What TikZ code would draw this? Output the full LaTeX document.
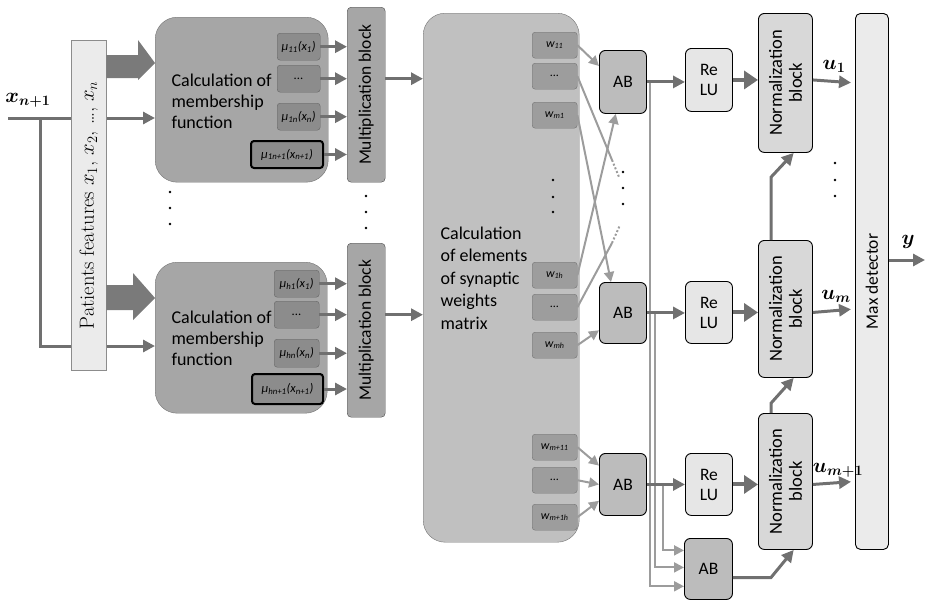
\documentclass[tikz,border=0pt]{standalone}
\usepackage{bm}
\usepackage{fontspec}
\setsansfont{Carlito}
\usetikzlibrary{arrows.meta,calc,positioning}

\definecolor{lineg}{HTML}{707070}
\definecolor{lightg}{HTML}{9C9C9C}
\definecolor{fatg}{HTML}{7A7A7A}
\definecolor{membg}{HTML}{A6A6A6}
\definecolor{mubg}{HTML}{8C8C8C}
\definecolor{wmbg}{HTML}{C0C0C0}
\definecolor{abbg}{HTML}{BCBCBC}
\definecolor{relubg}{HTML}{E6E6E6}
\definecolor{normbg}{HTML}{D8D8D8}
\definecolor{paleb}{HTML}{EBEBEB}

\tikzset{
  box/.style={anchor=north west, inner sep=0pt, align=center,
    font=\sffamily\fontsize{17.5}{20}\selectfont},
  membox/.style={box, fill=membg, draw=black!55, rounded corners=22pt},
  mubox/.style={box, fill=mubg, draw=black!60, rounded corners=3pt,
    font=\sffamily\itshape\fontsize{12.5}{13}\selectfont},
  mulast/.style={mubox, draw=black, line width=2pt},
  multbox/.style={box, fill=membg, draw=black!70, rounded corners=4pt},
  wmbox/.style={box, fill=wmbg, draw=black!55, rounded corners=22pt},
  wbox/.style={box, fill=mubg!85, draw=black!55, rounded corners=3pt,
    minimum width=45pt, minimum height=26pt,
    font=\sffamily\itshape\fontsize{12}{13}\selectfont},
  abbox/.style={box, fill=abbg, draw=black, line width=0.9pt, rounded corners=6pt},
  relubox/.style={box, fill=relubg, draw=black, line width=0.9pt, rounded corners=6pt},
  normbox/.style={box, fill=normbg, draw=black, line width=0.9pt, rounded corners=6pt},
  rottxt/.style={rotate=90, align=center, font=\sffamily\fontsize{17.5}{20}\selectfont},
  lbl/.style={font=\fontsize{22}{24}\selectfont},
  conn/.style={draw=lineg, line width=3pt, -{Triangle[length=12pt,width=12pt]}},
  bigconn/.style={draw=lineg, line width=4pt, -{Triangle[length=14pt,width=18pt]}},
  lconn/.style={draw=lightg, line width=2pt, -{Triangle[length=10pt,width=10pt]}},
  lline/.style={draw=lightg, line width=2pt},
  dotline/.style={draw=lightg, line width=2pt, dotted},
}

\begin{document}
\begin{tikzpicture}[x=1pt,y=-1pt]
\useasboundingbox (0,0) rectangle (925,605);

% membership blocks
\node[membox, minimum width=173pt, minimum height=165pt] (memA) at (155,17) {};
\node[membox, minimum width=172pt, minimum height=151pt] (memB) at (155,262) {};
\node[anchor=west, align=left, font=\sffamily\fontsize{18}{21}\selectfont] (memAtxt) at (168,101)
  {Calculation of\\membership\\function};
\node[anchor=west, align=left, font=\sffamily\fontsize{18}{21}\selectfont] (memBtxt) at (168,338)
  {Calculation of\\membership\\function};

\node[mubox, minimum width=43pt, minimum height=27pt] (muA1) at (277,33) {μ\textsubscript{11}(x\textsubscript{1})};
\node[mubox, minimum width=43pt, minimum height=27pt] (muA2) at (277,65) {...};
\node[mubox, minimum width=43pt, minimum height=27pt] (muA3) at (277,103) {μ\textsubscript{1n}(x\textsubscript{n})};
\node[mulast, minimum width=72pt, minimum height=27pt] (muA4) at (250,140) {μ\textsubscript{1n+1}(x\textsubscript{n+1})};
\node[mubox, minimum width=45pt, minimum height=27pt] (muB1) at (274,270) {μ\textsubscript{h1}(x\textsubscript{1})};
\node[mubox, minimum width=45pt, minimum height=27pt] (muB2) at (274,301) {...};
\node[mubox, minimum width=45pt, minimum height=28pt] (muB3) at (274,339) {μ\textsubscript{hn}(x\textsubscript{n})};
\node[mulast, minimum width=71pt, minimum height=30pt] (muB4) at (251,373) {μ\textsubscript{hn+1}(x\textsubscript{n+1})};

% input x_{n+1}
\coordinate (xin) at (8,118);
\coordinate (xsplit) at (40,118);
\node[lbl] (xlab) at (28,100) {$\bm{x}_{\bm{n+1}}$};
\draw[conn] (xin) -- (xin -| memA.west);
\draw[conn] (xsplit) |- (memB.west |- 0,346);

% patients features
\node[box, fill=paleb, draw=black!45, minimum width=35pt, minimum height=330pt] (feat) at (71,40) {};
\node[rotate=90, font=\fontsize{20.5}{22}\selectfont] (feattxt) at (feat)
  {Patients features $x_1$, $x_2$, \dots, $x_n$};
\fill[fatg] (feat.east |- 0,55) -- (138,55) -- (138,40) -- (memA.west |- 0,63)
  -- (138,80) -- (138,78) -- (feat.east |- 0,78) -- cycle;
\fill[fatg] (feat.east |- 0,285) -- (133,285) -- (133,273) -- (memB.west |- 0,298)
  -- (133,320) -- (133,310) -- (feat.east |- 0,310) -- cycle;

\foreach \yy in {192,208,224} \fill (170,\yy) circle (1.4pt);

% multiplication blocks
\node[multbox, minimum width=38pt, minimum height=175pt] (multA) at (347,7) {};
\node[multbox, minimum width=38pt, minimum height=174pt] (multB) at (347,243) {};
\node[rottxt] (multAtxt) at (multA) {Multiplication block};
\node[rottxt] (multBtxt) at (multB) {Multiplication block};
\foreach \yy in {196,212,228} \fill (366,\yy) circle (1.4pt);

\foreach \m in {muA1,muA2,muA3,muA4} \draw[conn] (\m) -- (\m -| multA.west);
\foreach \m in {muB1,muB2,muB3,muB4} \draw[conn] (\m) -- (\m -| multB.west);

% weights matrix
\node[wmbox, minimum width=156pt, minimum height=529pt] (wmat) at (423,13) {};
\node[anchor=west, align=left, font=\sffamily\fontsize{18}{22.5}\selectfont] (wmattxt) at (437,278)
  {Calculation\\of elements\\of synaptic\\weights\\matrix};
\draw[conn] (multA.east |- muA2) -- (wmat.west |- muA2);
\draw[conn] (multB.east |- muB2) -- (wmat.west |- muB2);

\node[wbox] (wA1) at (532,32) {w\textsubscript{11}};
\node[wbox] (wA2) at (532,63) {...};
\node[wbox] (wA3) at (532,102) {w\textsubscript{m1}};
\node[wbox] (wB1) at (532,262) {w\textsubscript{1h}};
\node[wbox] (wB2) at (532,294) {...};
\node[wbox] (wB3) at (532,332) {w\textsubscript{mh}};
\node[wbox] (wC1) at (532,434) {w\textsubscript{m+11}};
\node[wbox] (wC2) at (532,467) {...};
\node[wbox] (wC3) at (532,504) {w\textsubscript{m+1h}};
\foreach \yy in {180,197,212} \fill (553,\yy) circle (1.4pt);

% AB blocks
\node[abbox, minimum width=47pt, minimum height=63pt] (abA) at (599,50) {AB};
\node[abbox, minimum width=47pt, minimum height=61pt] (abB) at (599,282) {AB};
\node[abbox, minimum width=47pt, minimum height=62pt] (abC) at (599,453) {AB};
\node[abbox, minimum width=48pt, minimum height=61pt] (abD) at (684,538) {AB};

\coordinate (endA) at (612,160);
\coordinate (endB) at (612,243);
\draw[lconn] (wA1.east) -- ($(abA.north west)!0.25!(abA.south west)$);
\draw[lline] (wA2.east) -- (endA);
\draw[dotline] (endA) -- (619,177);
\draw[lconn] (wA3.east) -- ($(abB.north west)!0.25!(abB.north east)$);
\draw[lconn] (wB1.east) -- ($(abA.south west)!0.35!(abA.south east)$);
\draw[lline] (wB2.east) -- (endB);
\draw[dotline] (endB) -- (620,225);
\draw[lconn] (wB3.east) -- ($(abB.north west)!0.78!(abB.south west)$);
\draw[lconn] (wC1.east) -- ($(abC.north west)!0.2!(abC.south west)$);
\draw[lconn] (wC2.east) -- (abC.west);
\draw[lconn] (wC3.east) -- ($(abC.north west)!0.76!(abC.south west)$);
\foreach \yy in {172,188,204} \fill (623,\yy) circle (1.4pt);

% ReLU blocks
\node[relubox, minimum width=47pt, minimum height=63pt] (reluA) at (685,48) {Re\\LU};
\node[relubox, minimum width=47pt, minimum height=62pt] (reluB) at (685,281) {Re\\LU};
\node[relubox, minimum width=47pt, minimum height=62pt] (reluC) at (685,453) {Re\\LU};

\draw[lconn] (abA.east) ++(3,0) |- ($(abD.north west)!0.78!(abD.south west)$);
\draw[lconn] (abB.east) ++(8,0) |- ($(abD.north west)!0.475!(abD.south west)$);
\draw[lconn] (abC.east) ++(16,0) |- ($(abD.north west)!0.2!(abD.south west)$);
\draw[conn] (abA.east) -- (abA.east -| reluA.west);
\draw[conn] (abB.east) -- (abB.east -| reluB.west);
\draw[conn] (abC.east) -- (abC.east -| reluC.west);

% normalization blocks
\node[normbox, minimum width=54pt, minimum height=139pt] (normA) at (758,13) {};
\node[normbox, minimum width=54pt, minimum height=137pt] (normB) at (758,240) {};
\node[normbox, minimum width=54pt, minimum height=136pt] (normC) at (758,413) {};
\foreach \n in {normA,normB,normC}
  \node[rottxt, font=\sffamily\fontsize{18.5}{20}\selectfont] (\n txt) at (\n) {Normalization\\block};

\draw[bigconn] (reluA.east) -- (reluA.east -| normA.west);
\draw[bigconn] (reluB.east) -- (reluB.east -| normB.west);
\draw[bigconn] (reluC.east) -- (reluC.east -| normC.west);

\draw[conn] ($(normB.north west)!0.24!(normB.north east)$) -- ++(0,-63)
  -- ($(normA.south west)!0.65!(normA.south east)$);
\draw[conn] ($(normC.north west)!0.24!(normC.north east)$) -- ++(0,-10)
  -- ($(normB.south west)!0.65!(normB.south east)$);
\draw[conn] ($(abD.north east)!0.64!(abD.south east)$) -- ++(38,0)
  -- ($(normC.south west)!0.65!(normC.south east)$);

% max detector
\node[box, fill=paleb, draw=black, line width=0.9pt, rounded corners=5pt,
  minimum width=33pt, minimum height=536pt] (maxd) at (855,13) {};
\node[rottxt] (maxdtxt) at (maxd) {Max detector};

\draw[conn, shorten >=4pt] (normA.east |- reluA.east) -- (normA.east -| maxd.west);
\draw[conn, shorten >=4pt] (normB.east |- reluB.east) -- (normB.east -| maxd.west);
\draw[conn, shorten >=4pt] (normC.east |- reluC.east) -- (normC.east -| maxd.west);
\node[lbl] (u1) at (834,66) {$\bm{u}_{\bm{1}}$};
\node[lbl] (um) at (836,296) {$\bm{u}_{\bm{m}}$};
\node[lbl] (um1) at (838,470) {$\bm{u}_{\bm{m+1}}$};
\foreach \yy in {163,180,196} \fill (835,\yy) circle (1.4pt);

\coordinate (yout) at (925,260);
\draw[conn] (maxd.east |- yout) -- (yout);
\node[lbl] (ylab) at (908,242) {$\bm{y}$};
\end{tikzpicture}
\end{document}
